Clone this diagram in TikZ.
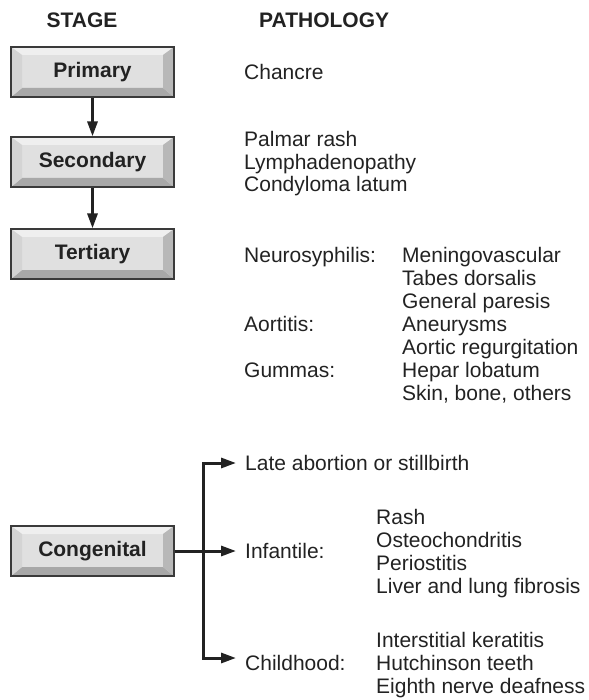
\documentclass[tikz,border=0pt]{standalone}
\usepackage{fontspec}
\setmainfont{Liberation Sans}
\usetikzlibrary{arrows.meta}

\definecolor{ink}{HTML}{222222}
\definecolor{boxline}{HTML}{3A3A3A}
\definecolor{face}{HTML}{E0E0E0}
\definecolor{bevtop}{HTML}{EFEFEF}
\definecolor{bevleft}{HTML}{D4D4D4}
\definecolor{bevright}{HTML}{B8B8B8}
\definecolor{bevbot}{HTML}{A8A8A8}

\tikzset{
  txt/.style={anchor=base west, inner sep=0pt, text=ink, font=\fontsize{21}{23}\selectfont},
  head/.style={txt, font=\fontsize{21}{23}\selectfont\bfseries},
  % raised grey button with bevelled edges
  stagebox/.style={rectangle, minimum width=163pt, minimum height=50pt, inner sep=0pt,
    draw=boxline, line width=1.2pt, fill=face, text=ink,
    font=\fontsize{21}{23}\selectfont\bfseries,
    path picture={
      \def\pb{path picture bounding box}
      \fill[bevtop] (\pb.north west) -- (\pb.north east) -- ([xshift=-11pt,yshift=-8pt]\pb.north east) -- ([xshift=11pt,yshift=-8pt]\pb.north west) -- cycle;
      \fill[bevbot] (\pb.south west) -- (\pb.south east) -- ([xshift=-11pt,yshift=9pt]\pb.south east) -- ([xshift=11pt,yshift=9pt]\pb.south west) -- cycle;
      \fill[bevleft] (\pb.north west) -- ([xshift=11pt,yshift=-8pt]\pb.north west) -- ([xshift=11pt,yshift=9pt]\pb.south west) -- (\pb.south west) -- cycle;
      \fill[bevright] (\pb.north east) -- ([xshift=-11pt,yshift=-8pt]\pb.north east) -- ([xshift=-11pt,yshift=9pt]\pb.south east) -- (\pb.south east) -- cycle;
    }},
  flow/.style={draw=ink, line width=3pt, -{Triangle[length=15pt,width=10pt]}},
  fork/.style={draw=ink, line width=3pt, line join=miter,
    {Triangle[length=15pt,width=10pt]}-{Triangle[length=15pt,width=10pt]}}
}

\begin{document}
\begin{tikzpicture}[x=1pt, y=-1pt]
\useasboundingbox (0,0) rectangle (588,700);

% column headings
\node[head, anchor=base] (stage) at (82,28) {STAGE};
\node[head] (patho) at (259,28) {PATHOLOGY};

% stages
\node[stagebox] (prim) at (92.5,72) {Primary};
\node[stagebox] (sec) at (92.5,162) {Secondary};
\node[stagebox] (tert) at (92.5,254) {Tertiary};
\node[stagebox] (cong) at (92.5,551) {Congenital};

\draw[flow] (prim.south) -- (sec.north);
\draw[flow] (sec.south) -- (tert.north);

% primary and secondary findings
\node[txt] (chancre) at (244,80) {Chancre};
\foreach \t [count=\i] in {Palmar rash, Lymphadenopathy, Condyloma latum}
  \node[txt] (secp\i) at (244,147+22.5*\i-22.5) {\t};

% tertiary findings
\node[txt] (neuro) at (244,262) {Neurosyphilis:};
\node[txt] (aort) at (244,331) {Aortitis:};
\node[txt] (gum) at (244,377) {Gummas:};
\foreach \t [count=\i] in {Meningovascular, Tabes dorsalis, General paresis, Aneurysms,
    Aortic regurgitation, Hepar lobatum, {Skin, bone, others}}
  \node[txt] (terp\i) at (402,262+23*\i-23) {\t};

% congenital findings
\node[txt] (late) at (245,470) {Late abortion or stillbirth};
\node[txt] (inf) at (245,558.5) {Infantile:};
\node[txt] (child) at (245,670) {Childhood:};
\foreach \t [count=\i] in {Rash, Osteochondritis, Periostitis, Liver and lung fibrosis}
  \node[txt] (infp\i) at (376,524+23.3*\i-23.3) {\t};
\foreach \t [count=\i] in {Interstitial keratitis, Hutchinson teeth, Eighth nerve deafness}
  \node[txt] (chp\i) at (376,647+23.3*\i-23.3) {\t};

\coordinate (forkT) at (203,463);
\coordinate (forkB) at (203,658);
\draw[fork, shorten <=9pt, shorten >=9pt] (forkT -| late.west) -- (forkT) -- (forkB) -- (forkB -| child.west);
\draw[flow, shorten >=9pt] (cong.east) -- (cong.east -| inf.west);

\end{tikzpicture}
\end{document}
